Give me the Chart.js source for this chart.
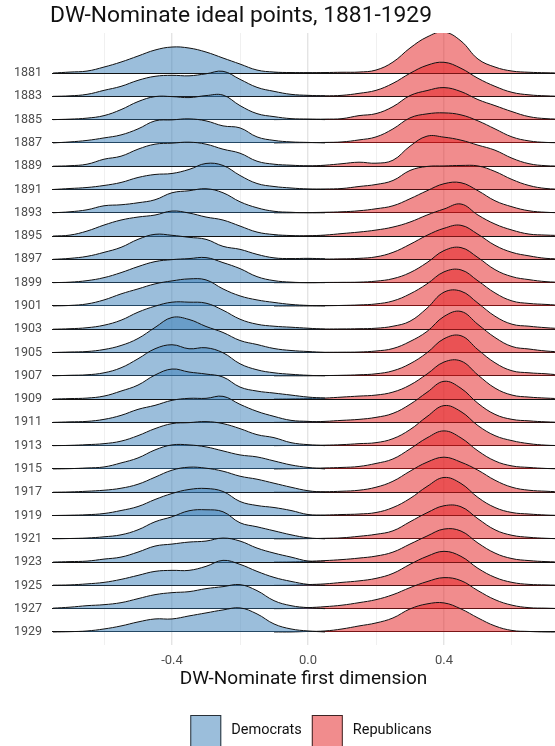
<!DOCTYPE html>
<html>
<head>
<meta charset="utf-8">
<script src="https://cdn.jsdelivr.net/npm/chart.js@4.4.1/dist/chart.umd.min.js"></script>
<style>
  html, body { margin: 0; padding: 0; background: #fff; }
  #wrap { width: 555px; height: 746px; }
</style>
</head>
<body>
<div id="wrap"><canvas id="ridges" width="555" height="746"></canvas></div>
<script>
// Congress start years, top row first
const years = [1881, 1883, 1885, 1887, 1889, 1891, 1893, 1895, 1897, 1899, 1901, 1903, 1905,
               1907, 1909, 1911, 1913, 1915, 1917, 1919, 1921, 1923, 1925, 1927, 1929];

// x positions (DW-Nominate 1st dim) where the densities were read
const demX = [-0.75, -0.7, -0.65, -0.6, -0.55, -0.5, -0.45, -0.4, -0.35, -0.3, -0.25, -0.2, -0.15, -0.1, -0.05, 0, 0.05];
const repX = [-0.1, -0.05, 0, 0.05, 0.1, 0.15, 0.2, 0.25, 0.3, 0.35, 0.4, 0.45, 0.5, 0.55, 0.6, 0.65, 0.7, 0.75];

// density estimates, one row per year (same order as years)
const demDensity = [
  [0, 0.1, 0.2, 0.6, 1.1, 1.7, 2.3, 2.6, 2.5, 2.1, 1.5, 0.9, 0.3, 0.1, 0.05, 0.03, 0],      // 1881
  [0, 0.05, 0.2, 0.6, 1.0, 1.6, 2.0, 2.1, 2.05, 2.25, 2.5, 1.7, 0.9, 0.5, 0.2, 0.1, 0.05],  // 1883
  [0, 0.05, 0.15, 0.4, 1.0, 1.8, 2.3, 2.3, 2.2, 2.4, 2.45, 1.4, 0.6, 0.3, 0.1, 0.05, 0],    // 1885
  [0, 0.1, 0.25, 0.5, 0.8, 1.4, 2.2, 2.3, 2.4, 2.2, 1.7, 1.5, 0.6, 0.25, 0.1, 0.05, 0],     // 1887
  [0, 0.05, 0.2, 0.7, 1.0, 1.7, 2.2, 2.3, 2.4, 2.2, 1.7, 1.3, 0.5, 0.2, 0.1, 0.03, 0],      // 1889
  [0, 0.1, 0.2, 0.4, 0.7, 1.2, 1.5, 1.6, 2.0, 2.6, 2.4, 1.4, 0.6, 0.3, 0.15, 0.05, 0],      // 1891
  [0, 0.1, 0.3, 0.7, 0.8, 1.0, 1.3, 2.0, 2.2, 2.4, 2.0, 1.1, 0.5, 0.15, 0.05, 0, 0],        // 1893
  [0, 0.1, 0.5, 1.1, 1.6, 1.9, 2.1, 2.5, 2.3, 1.9, 1.6, 1.0, 0.4, 0.15, 0.05, 0, 0],        // 1895
  [0, 0.1, 0.3, 0.7, 1.2, 2.0, 2.5, 2.4, 2.2, 2.0, 1.3, 1.0, 0.5, 0.15, 0.08, 0.1, 0.05],   // 1897
  [0, 0.05, 0.2, 0.5, 1.0, 1.6, 2.1, 2.3, 2.4, 2.5, 2.0, 1.4, 0.6, 0.2, 0.05, 0, 0],        // 1899
  [0, 0.05, 0.2, 0.6, 1.2, 1.7, 2.2, 2.5, 2.7, 2.6, 1.7, 1.0, 0.6, 0.35, 0.15, 0.05, 0],    // 1901
  [0, 0.05, 0.15, 0.4, 0.9, 1.7, 2.3, 2.7, 2.7, 2.6, 1.9, 1.0, 0.5, 0.3, 0.2, 0.1, 0],      // 1903
  [0, 0.05, 0.1, 0.3, 0.7, 1.4, 2.5, 3.5, 3.3, 2.6, 2.0, 1.2, 0.8, 0.4, 0.2, 0.1, 0],       // 1905
  [0, 0.05, 0.1, 0.3, 0.8, 1.7, 2.7, 3.1, 2.7, 2.8, 2.3, 1.2, 0.6, 0.3, 0.15, 0.05, 0],     // 1907
  [0, 0.05, 0.1, 0.3, 0.8, 1.4, 2.4, 3.0, 2.7, 2.5, 2.2, 1.2, 0.8, 0.6, 0.4, 0.2, 0.1],     // 1909
  [0, 0.05, 0.1, 0.3, 0.7, 1.3, 1.7, 2.2, 2.4, 2.4, 2.6, 1.8, 1.1, 0.6, 0.2, 0.1, 0],       // 1911
  [0, 0.03, 0.1, 0.2, 0.45, 1.0, 1.7, 2.2, 2.3, 2.4, 2.2, 1.7, 1.1, 0.8, 0.3, 0.1, 0],      // 1913
  [0, 0.03, 0.1, 0.2, 0.6, 1.1, 1.9, 2.4, 2.4, 2.2, 1.8, 1.4, 1.2, 0.8, 0.4, 0.15, 0],      // 1915
  [0, 0.03, 0.1, 0.2, 0.4, 0.8, 1.5, 2.2, 2.5, 2.4, 2.1, 1.6, 1.3, 0.9, 0.5, 0.15, 0],      // 1917
  [0, 0.03, 0.08, 0.2, 0.5, 0.9, 1.6, 2.2, 2.6, 2.7, 2.4, 1.4, 1.0, 0.8, 0.5, 0.1, 0],      // 1919
  [0, 0.03, 0.08, 0.2, 0.4, 0.9, 1.7, 2.2, 2.8, 2.9, 2.7, 1.6, 1.2, 0.8, 0.4, 0.1, 0],      // 1921
  [0, 0.05, 0.1, 0.3, 0.5, 1.0, 1.6, 1.8, 2.0, 2.1, 2.4, 2.1, 1.4, 0.9, 0.5, 0.1, 0],       // 1923
  [0.02, 0.05, 0.15, 0.3, 0.6, 1.0, 1.4, 1.5, 1.5, 1.9, 2.5, 2.1, 1.4, 0.8, 0.4, 0.1, 0],   // 1925
  [0.05, 0.15, 0.3, 0.4, 0.6, 1.0, 1.4, 1.6, 1.7, 2.0, 2.2, 2.4, 1.8, 0.8, 0.3, 0.1, 0],    // 1927
  [0, 0.03, 0.1, 0.3, 0.6, 1.0, 1.3, 1.3, 1.6, 1.9, 2.2, 2.4, 1.8, 0.8, 0.3, 0.1, 0]        // 1929
];
const repDensity = [
  [0, 0, 0.02, 0.05, 0.08, 0.1, 0.3, 1.1, 2.5, 3.6, 4.1, 3.2, 1.4, 0.6, 0.2, 0.08, 0.03, 0],      // 1881
  [0, 0.02, 0.03, 0.05, 0.1, 0.3, 0.6, 1.3, 2.3, 3.1, 3.4, 2.8, 1.8, 1.0, 0.4, 0.15, 0.05, 0],    // 1883
  [0, 0.02, 0.03, 0.05, 0.1, 0.4, 0.6, 1.3, 2.4, 2.9, 3.2, 2.8, 2.0, 1.4, 0.8, 0.3, 0.1, 0.05],   // 1885
  [0, 0.02, 0.03, 0.05, 0.1, 0.3, 0.6, 1.4, 2.5, 2.9, 3.0, 2.8, 2.2, 1.4, 0.6, 0.2, 0.05, 0.02],  // 1887
  [0, 0, 0.02, 0.1, 0.25, 0.4, 0.3, 0.6, 2.0, 3.0, 2.9, 2.6, 2.1, 1.6, 0.8, 0.25, 0.05, 0.02],    // 1889
  [0, 0, 0.02, 0.05, 0.1, 0.3, 0.5, 0.9, 1.9, 2.3, 2.35, 2.4, 2.35, 1.8, 1.0, 0.4, 0.1, 0.03],    // 1891
  [0, 0, 0.02, 0.05, 0.1, 0.2, 0.4, 0.7, 1.4, 2.2, 2.9, 3.0, 2.2, 1.2, 0.6, 0.2, 0.05, 0],        // 1893
  [0, 0, 0.03, 0.1, 0.25, 0.4, 0.6, 0.9, 1.4, 2.1, 2.7, 3.2, 2.1, 1.2, 0.6, 0.2, 0.1, 0.05],      // 1895
  [0, 0, 0.02, 0.03, 0.05, 0.1, 0.25, 0.7, 1.5, 2.4, 3.1, 3.4, 2.5, 1.4, 0.7, 0.35, 0.1, 0.05],   // 1897
  [0, 0, 0, 0.02, 0.03, 0.05, 0.15, 0.4, 1.0, 2.0, 3.2, 3.5, 2.5, 1.3, 0.6, 0.3, 0.1, 0.03],      // 1899
  [0, 0, 0, 0.02, 0.05, 0.1, 0.2, 0.5, 1.2, 2.2, 3.4, 3.6, 2.5, 1.3, 0.5, 0.25, 0.15, 0.05],      // 1901
  [0, 0, 0, 0.02, 0.03, 0.05, 0.1, 0.3, 0.8, 2.1, 3.7, 3.8, 2.6, 1.3, 0.5, 0.3, 0.15, 0.05],      // 1903
  [0, 0, 0, 0.02, 0.03, 0.05, 0.15, 0.4, 1.1, 2.1, 3.6, 4.1, 2.8, 1.5, 0.6, 0.35, 0.15, 0.05],    // 1905
  [0, 0, 0, 0.02, 0.05, 0.1, 0.2, 0.5, 1.2, 2.3, 3.7, 4.0, 2.6, 1.3, 0.5, 0.3, 0.2, 0.05],        // 1907
  [0, 0.02, 0.05, 0.1, 0.2, 0.3, 0.4, 0.7, 1.4, 2.5, 3.7, 3.8, 2.4, 1.1, 0.4, 0.2, 0.1, 0.03],    // 1909
  [0, 0.02, 0.05, 0.1, 0.2, 0.3, 0.5, 0.9, 1.8, 3.0, 4.1, 3.4, 1.9, 0.8, 0.3, 0.15, 0.05, 0],     // 1911
  [0, 0.02, 0.03, 0.05, 0.1, 0.2, 0.3, 0.7, 1.6, 2.9, 4.0, 3.4, 2.0, 1.0, 0.5, 0.2, 0.05, 0],     // 1913
  [0, 0.02, 0.05, 0.1, 0.15, 0.25, 0.55, 1.0, 2.0, 3.1, 3.8, 3.1, 1.8, 0.8, 0.3, 0.15, 0.05, 0], // 1915
  [0, 0, 0.02, 0.05, 0.1, 0.2, 0.5, 1.1, 2.1, 3.0, 3.5, 3.0, 2.2, 1.2, 0.5, 0.2, 0.1, 0.02],      // 1917
  [0, 0, 0.02, 0.05, 0.1, 0.15, 0.3, 0.8, 1.7, 2.9, 3.8, 3.2, 1.8, 0.8, 0.3, 0.15, 0.05, 0],      // 1919
  [0, 0, 0.02, 0.05, 0.1, 0.25, 0.45, 0.8, 1.7, 2.6, 3.3, 3.2, 2.0, 0.9, 0.35, 0.15, 0.05, 0],    // 1921
  [0, 0.02, 0.08, 0.15, 0.25, 0.4, 0.6, 1.0, 1.8, 2.6, 3.3, 3.1, 1.9, 0.9, 0.35, 0.15, 0.05, 0],  // 1923
  [0, 0.02, 0.08, 0.15, 0.3, 0.45, 0.7, 1.2, 2.1, 2.9, 3.4, 2.9, 1.7, 0.8, 0.3, 0.1, 0.05, 0],    // 1925
  [0, 0.02, 0.1, 0.2, 0.35, 0.6, 0.9, 1.4, 2.1, 2.7, 3.1, 2.8, 1.8, 0.9, 0.35, 0.1, 0.05, 0],     // 1927
  [0, 0, 0.05, 0.1, 0.3, 0.6, 0.9, 1.4, 2.3, 2.8, 2.9, 2.3, 1.4, 0.6, 0.15, 0.05, 0, 0]           // 1929
];

const xGridTicks  = [-0.6, -0.4, -0.2, 0, 0.2, 0.4, 0.6];
const xLabelTicks = [-0.4, 0, 0.4];

const FONT = 'Roboto, "Liberation Sans", sans-serif';
const demFill = 'rgba(55, 126, 184, 0.5)';
const repFill = 'rgba(228, 26, 28, 0.5)';
const ridgeScale = 0.43;   // rows per unit of density
const nRows = years.length;

// one filled ridge, sitting on its own row baseline
function ridge(xs, dens, row, fill) {
  return {
    data: xs.map((x, k) => ({ x, y: row + dens[k] * ridgeScale })),
    fill: { value: row },
    backgroundColor: fill,
    borderColor: '#111',
    borderWidth: 1,
    pointRadius: 0,
    tension: 0.4
  };
}

// bottom row first -> drawn last, so lower ridges overlap the ones above
const datasets = [];
for (let i = nRows - 1; i >= 0; i--) {
  const row = nRows - 1 - i;
  datasets.push(ridge(demX, demDensity[i], row, demFill));
  datasets.push(ridge(repX, repDensity[i], row, repFill));
}

// title + legend drawn straight on the canvas
const decor = {
  id: 'decor',
  afterDraw(chart) {
    const ctx = chart.ctx;
    ctx.save();
    ctx.textBaseline = 'middle';
    ctx.fillStyle = '#111';
    ctx.font = '22.8px ' + FONT;
    ctx.fillText('DW-Nominate ideal points, 1881-1929', 50, 16);

    const items = [['Democrats', demFill], ['Republicans', repFill]];
    ctx.font = '14.5px ' + FONT;
    const box = 31, gap = 10;
    const widths = items.map(it => ctx.measureText(it[0]).width);
    const total = items.length * (box + gap) + widths.reduce((a, b) => a + b, 0) + gap;
    let x = 311 - total / 2;
    const y0 = 715;
    items.forEach(([label, fill], k) => {
      ctx.fillStyle = fill;
      ctx.fillRect(x, y0, box, box);
      ctx.strokeStyle = 'rgba(0,0,0,0.75)';
      ctx.lineWidth = 1;
      ctx.strokeRect(x + 0.5, y0 + 0.5, box - 1, box);
      ctx.fillStyle = '#111';
      ctx.fillText(label, x + box + gap, y0 + 15);
      x += box + gap + widths[k] + gap;
    });
    ctx.restore();
  }
};

new Chart(document.getElementById('ridges'), {
  type: 'line',
  data: { datasets },
  options: {
    responsive: false,
    animation: false,
    devicePixelRatio: 1,
    layout: { padding: { top: 33, left: 0, right: 0, bottom: 0 } },
    plugins: {
      legend: { display: false },
      tooltip: { enabled: false },
      title: { display: false }
    },
    scales: {
      x: {
        type: 'linear',
        min: -0.753,
        max: 0.7265,
        afterBuildTicks: s => { s.ticks = xGridTicks.map(v => ({ value: v })); },
        afterFit: s => { s.height = 101; s.paddingLeft = 0; s.paddingRight = 0; },
        ticks: {
          autoSkip: false,
          maxRotation: 0,
          padding: 8,
          color: '#4d4d4d',
          font: { family: FONT, size: 13 },
          callback: v => xLabelTicks.includes(v) ? v.toFixed(1) : ''
        },
        grid: {
          drawTicks: false,
          color: c => xLabelTicks.includes(c.tick.value) ? '#e4e4e4' : '#f0f0f0',
          lineWidth: c => xLabelTicks.includes(c.tick.value) ? 1.4 : 1
        },
        border: { display: false },
        title: {
          display: true,
          text: 'DW-Nominate first dimension',
          color: '#111',
          font: { family: FONT, size: 19 },
          padding: { top: 0, bottom: 55.6 }
        }
      },
      y: {
        type: 'linear',
        min: -0.56,
        max: 25.72,
        afterBuildTicks: s => { s.ticks = years.map((_, r) => ({ value: r })); },
        afterFit: s => { s.width = 52; s.paddingTop = 0; s.paddingBottom = 0; },
        ticks: {
          autoSkip: false,
          padding: 10,
          color: '#4d4d4d',
          font: { family: FONT, size: 12.5 },
          callback: v => years[nRows - 1 - v]
        },
        // ridge baselines: dark rules under every row
        grid: { drawTicks: false, color: '#111', lineWidth: 1 },
        border: { display: false }
      }
    }
  },
  plugins: [decor]
});
</script>
</body>
</html>
